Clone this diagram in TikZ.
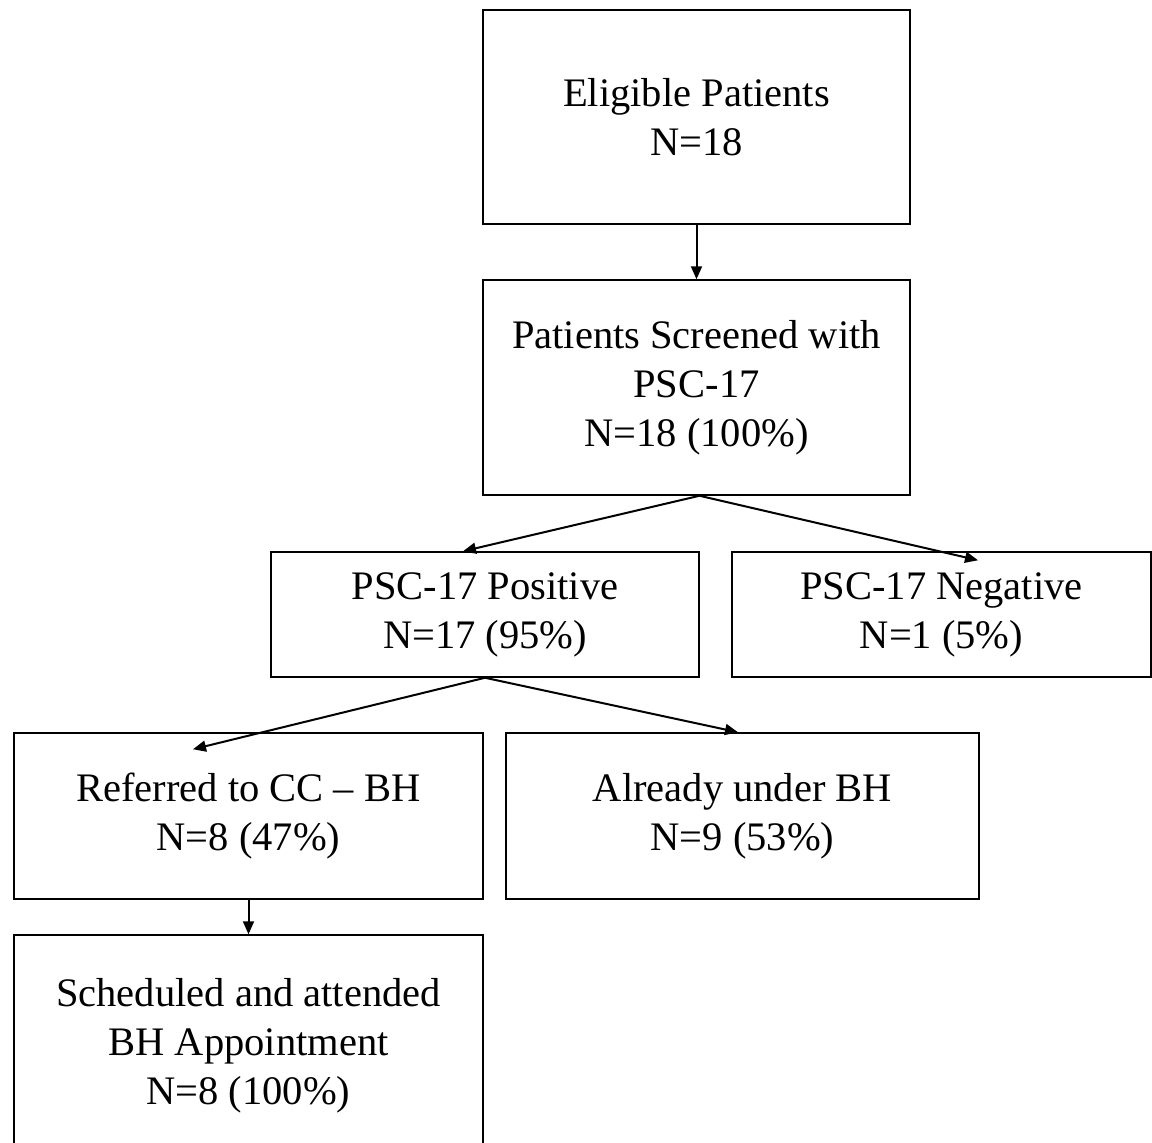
\documentclass[tikz,border=0pt]{standalone}
\usepackage{fontspec}
\setmainfont{Liberation Serif}
\usetikzlibrary{arrows.meta}
\tikzset{
  box/.style={draw=black, line width=0.75pt, rectangle, inner sep=0pt, align=center,
    font=\fontsize{20.25}{24.5}\selectfont},
  link/.style={draw=black, line width=1pt, -{Triangle[length=6.5pt,width=5.5pt]}}
}
\begin{document}
\begin{tikzpicture}[x=0.5pt,y=-0.5pt]
\useasboundingbox (0,0) rectangle (1152,1142);
\node[box, minimum width=213.5pt, minimum height=107pt] (b1) at (696.5,117) {Eligible Patients\\N=18};
\node[box, minimum width=213.5pt, minimum height=107.5pt] (b2) at (696.5,387.5) {Patients Screened with\\PSC-17\\N=18 (100\%)};
\node[box, minimum width=214pt, minimum height=62.5pt] (b3) at (485,614.5) {PSC-17 Positive\\N=17 (95\%)};
\node[box, minimum width=209.5pt, minimum height=62.5pt] (b4) at (941.5,614.5) {PSC-17 Negative\\N=1 (5\%)};
\node[box, minimum width=234.5pt, minimum height=83pt] (b5) at (248.5,816) {Referred to CC -- BH\\N=8 (47\%)};
\node[box, minimum width=236.5pt, minimum height=83pt] (b6) at (742.5,816) {Already under BH\\N=9 (53\%)};
\node[box, minimum width=234.5pt, minimum height=111pt] (b7) at (248.5,1046) {Scheduled and attended\\BH Appointment\\N=8 (100\%)};
\draw[link] (b1.south) -- (b2.north);
\draw[link] ([xshift=1.5pt]b2.south) -- ([xshift=-11pt]b3.north);
\draw[link] ([xshift=1.5pt]b2.south) -- ([xshift=18.25pt,yshift=-4.5pt]b4.north);
\draw[link] (b3.south) -- ([xshift=-27.75pt,yshift=-8.5pt]b5.north);
\draw[link] (b3.south) -- ([xshift=-2.25pt]b6.north);
\draw[link] (b5.south) -- (b7.north);
\end{tikzpicture}
\end{document}
